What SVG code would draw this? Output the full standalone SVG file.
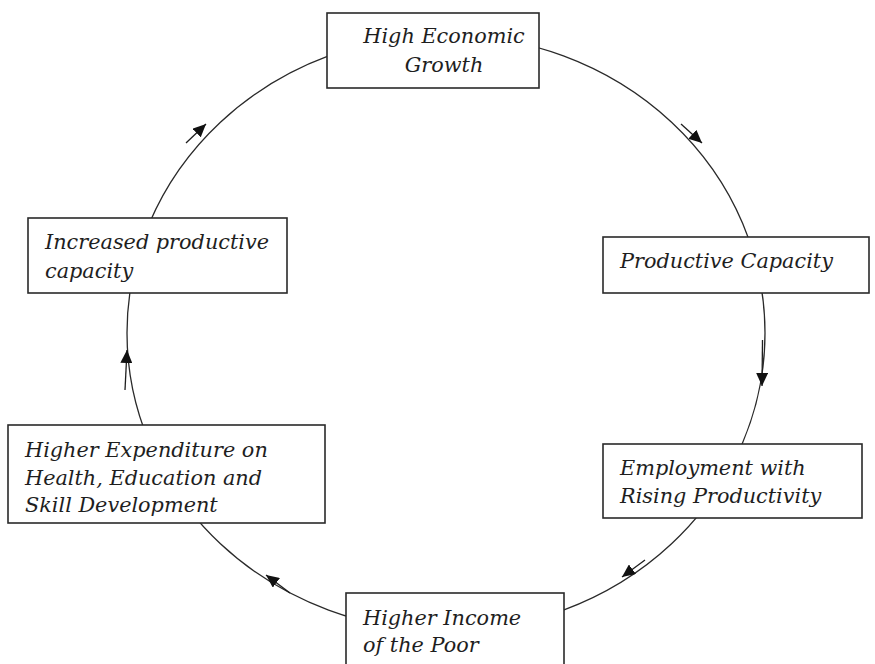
<svg xmlns="http://www.w3.org/2000/svg" width="875" height="664" viewBox="0 0 875 664">
  <style>
    .ring { fill: none; stroke: #2a2a2a; stroke-width: 1.3; }
    .box { fill: #ffffff; stroke: #2a2a2a; stroke-width: 1.6; }
    .lbl { font-family: "DejaVu Serif", "Liberation Serif", serif; font-style: italic; font-size: 20.8px; fill: #1e1e1e; }
    .arr { fill: none; stroke: #1e1e1e; stroke-width: 1.3; marker-end: url(#head); }
  </style>
  <defs>
    <marker id="head" markerUnits="userSpaceOnUse" markerWidth="14" markerHeight="12" refX="13" refY="6" orient="auto">
      <path d="M0,0 L13,6 L0,12 Z" fill="#111"/>
    </marker>
  </defs>

  <!-- cycle ring and direction arrows -->
  <g id="connectors">
    <ellipse class="ring" cx="446" cy="333" rx="319" ry="298"/>
    <path class="arr" d="M681,124 L702,143"/>
    <path class="arr" d="M762.5,340 L762,386"/>
    <path class="arr" d="M645,560 L622,577"/>
    <path class="arr" d="M290,593 L266,575"/>
    <path class="arr" d="M125,390 L127,350"/>
    <path class="arr" d="M186,143 L206,124"/>
  </g>

  <g id="high-economic-growth">
    <rect class="box" x="327" y="13" width="212" height="75"/>
    <text class="lbl" text-anchor="middle" x="444" y="43">High Economic</text>
    <text class="lbl" text-anchor="middle" x="444" y="72">Growth</text>
  </g>

  <g id="productive-capacity">
    <rect class="box" x="603" y="237" width="266" height="56"/>
    <text class="lbl" x="620" y="268">Productive Capacity</text>
  </g>

  <g id="employment">
    <rect class="box" x="603" y="444" width="259" height="74"/>
    <text class="lbl" x="620" y="475">Employment with</text>
    <text class="lbl" x="620" y="503">Rising Productivity</text>
  </g>

  <g id="higher-income">
    <rect class="box" x="346" y="593" width="218" height="80"/>
    <text class="lbl" x="363" y="625">Higher Income</text>
    <text class="lbl" x="363" y="652">of the Poor</text>
  </g>

  <g id="higher-expenditure">
    <rect class="box" x="8" y="425" width="317" height="98"/>
    <text class="lbl" x="25" y="457">Higher Expenditure on</text>
    <text class="lbl" x="25" y="485">Health, Education and</text>
    <text class="lbl" x="25" y="512">Skill Development</text>
  </g>

  <g id="increased-capacity">
    <rect class="box" x="28" y="218" width="259" height="75"/>
    <text class="lbl" x="45" y="249">Increased productive</text>
    <text class="lbl" x="45" y="278">capacity</text>
  </g>
</svg>
